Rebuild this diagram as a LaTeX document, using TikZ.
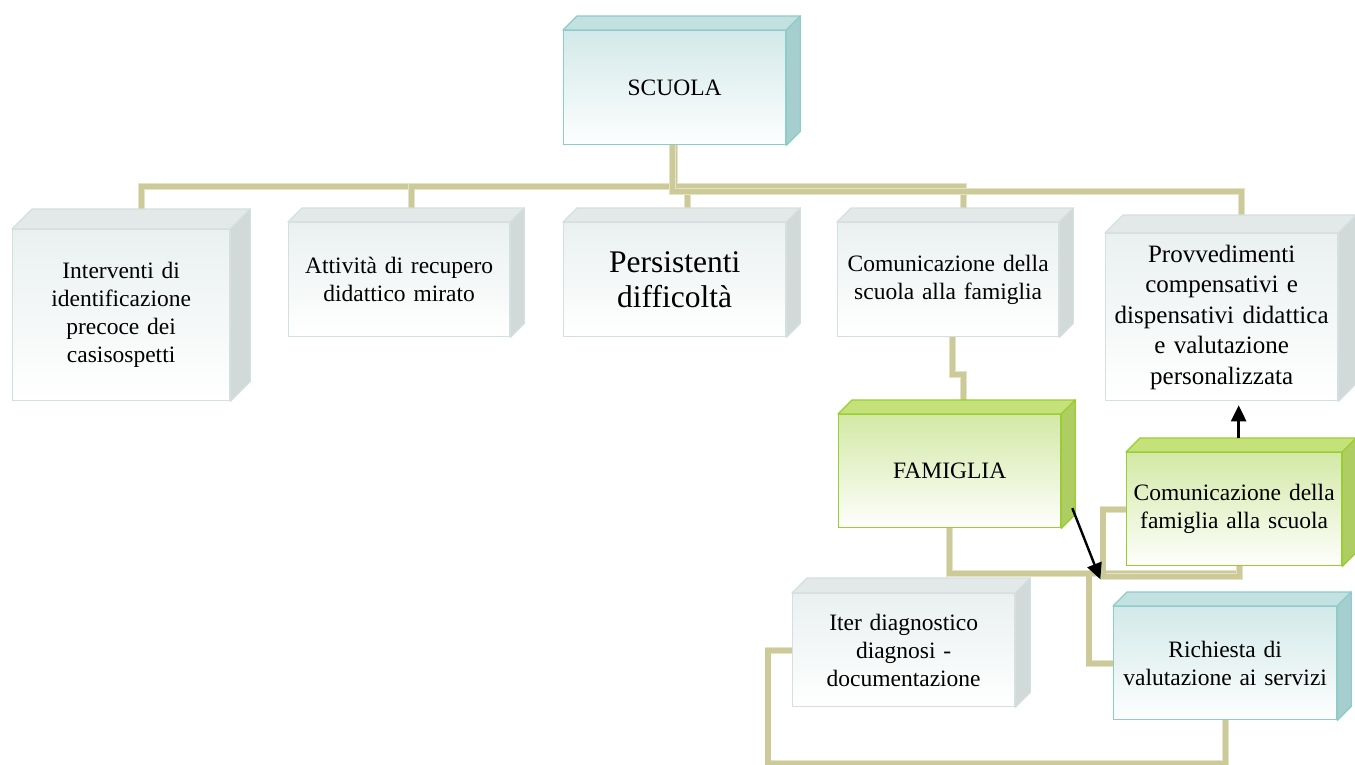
\documentclass[tikz,border=0pt]{standalone}
\usepackage{fontspec}
\setmainfont{Liberation Serif}
\usetikzlibrary{calc,arrows.meta}
\pgfdeclarelayer{background}
\pgfsetlayers{background,main}
\definecolor{connc}{RGB}{204,202,152}
\definecolor{conne}{RGB}{228,227,200}
% grey family
\definecolor{gbord}{RGB}{212,223,223}
\definecolor{gtopf}{RGB}{227,233,233}
\definecolor{gside}{RGB}{209,217,217}
\definecolor{gfront}{RGB}{234,240,240}
% teal family
\definecolor{tbord}{RGB}{140,205,201}
\definecolor{ttopf}{RGB}{195,225,225}
\definecolor{tside}{RGB}{167,206,206}
\definecolor{tfront}{RGB}{211,233,233}
% green family
\definecolor{vbord}{RGB}{154,205,50}
\definecolor{vtopf}{RGB}{197,225,122}
\definecolor{vside}{RGB}{174,205,98}
\definecolor{vfront}{RGB}{211,233,166}
\newcommand\cubefaces[5]{%
  \draw[#5, fill=#3, line join=round] (#1.north west) -- ++(#2,-#2) -- ($(#1.north east)+(#2,-#2)$) -- (#1.north east) -- cycle;
  \draw[#5, fill=#4, line join=round] (#1.north east) -- ++(#2,-#2) -- ($(#1.south east)+(#2,-#2)$) -- (#1.south east) -- cycle;}
\tikzset{
  boxbase/.style={anchor=north west, inner sep=0pt, align=center, line width=1.3pt,
    font=\fontsize{23.5}{28}\selectfont},
  greybox/.style={boxbase, draw=gbord, top color=gfront, bottom color=white},
  tealbox/.style={boxbase, draw=tbord, top color=tfront, bottom color=white!96!tfront},
  greenbox/.style={boxbase, draw=vbord, top color=vfront, bottom color=white!97!vfront},
  conn/.style={line width=5.2pt, draw=connc, preaction={draw=conne, line width=6.8pt}},
  arr/.style={line width=2.4pt, black, -{Triangle[length=16pt,width=15pt]}}
}
\begin{document}
\begin{tikzpicture}[x=1pt,y=-1pt]
\useasboundingbox (0,0) rectangle (1355,765);
\begin{pgfonlayer}{background}
\fill[white] (0,0) rectangle (1355,765);
\end{pgfonlayer}

% nodes
\node[tealbox, minimum width=222pt, minimum height=114pt, text width=216pt] (scuola) at (563,30) {SCUOLA};
\cubefaces{scuola}{14}{ttopf}{tside}{draw=tbord, line width=1.3pt}

\node[greybox, minimum width=217pt, minimum height=171pt, text width=211pt] (interv) at (12,229) {Interventi di\\identificazione\\precoce dei\\casisospetti};
\cubefaces{interv}{20}{gtopf}{gside}{draw=gbord, line width=1.3pt}

\node[greybox, minimum width=221pt, minimum height=114pt, text width=215pt] (attiv) at (288,222) {Attività di recupero\\didattico mirato};
\cubefaces{attiv}{14}{gtopf}{gside}{draw=gbord, line width=1.3pt}

\node[greybox, minimum width=222pt, minimum height=114pt, text width=216pt, font=\fontsize{31.5}{35}\selectfont] (pers) at (563,222) {Persistenti\\difficoltà};
\cubefaces{pers}{14}{gtopf}{gside}{draw=gbord, line width=1.3pt}

\node[greybox, minimum width=221pt, minimum height=114pt, text width=215pt] (comsc) at (837,222) {Comunicazione della\\scuola alla famiglia};
\cubefaces{comsc}{14}{gtopf}{gside}{draw=gbord, line width=1.3pt}

\node[greybox, minimum width=232pt, minimum height=167pt, text width=228pt, font=\fontsize{25}{30.5}\selectfont] (prov) at (1105,233) {Provvedimenti\\compensativi e\\dispensativi didattica\\e valutazione\\personalizzata};
\cubefaces{prov}{18}{gtopf}{gside}{draw=gbord, line width=1.3pt}

\node[greenbox, minimum width=222pt, minimum height=113pt, text width=216pt] (famiglia) at (838,414) {FAMIGLIA};
\cubefaces{famiglia}{14}{vtopf}{vside}{draw=vbord, line width=1.3pt}

\node[greenbox, minimum width=215pt, minimum height=113pt, text width=211pt] (comfam) at (1126,452) {Comunicazione della\\famiglia alla scuola};
\cubefaces{comfam}{14}{vtopf}{vside}{draw=vbord, line width=1.3pt}

\node[greybox, minimum width=222pt, minimum height=113pt, text width=216pt] (iter) at (792,593) {Iter diagnostico\\diagnosi -\\documentazione};
\cubefaces{iter}{15}{gtopf}{gside}{draw=gbord, line width=1.3pt}

\node[tealbox, minimum width=223pt, minimum height=113pt, text width=219pt] (richiesta) at (1113,606) {Richiesta di\\valutazione ai servizi};
\cubefaces{richiesta}{14}{ttopf}{tside}{draw=tbord, line width=1.3pt}

% connectors
\begin{pgfonlayer}{background}
\draw[conn] (scuola.south) -- ++(0,41) -| ($(interv.north)+(20,0)$);
\draw[conn] (scuola.south) -- ++(0,41) -| ($(attiv.north)+(12,0)$);
\draw[conn] (scuola.south) -- ++(0,41) -| ($(comsc.north)+(15.5,0)$);
\draw[conn] ($(scuola.south)+(-2,0)$) -- ++(0,46) -| ($(pers.north)+(13,0)$);
\draw[conn] ($(scuola.south)+(-2,0)$) -- ++(0,46) -| ($(prov.north)+(20,0)$);
\draw[conn] ($(comsc.south)+(4,0)$) -- ++(0,37) -| ($(famiglia.north)+(14,0)$);
\draw[conn] (famiglia.south) -- ++(0,45) -| ($(comfam.south)+(5,0)$);
\draw[conn] (famiglia.south) -- ++(0,45) -| ($(richiesta.west)+(-24,0)$) -- (richiesta.west);
\draw[conn] (comfam.west) -- ++(-23,0) -- ++(0,67) -| ($(comfam.south)+(5,0)$);
\draw[conn] (iter.west) -- ++(-24,0) -- ++(0,113) -| (richiesta.south);
\end{pgfonlayer}

% arrows
\coordinate (a1s) at ($(comfam.north)+(4.5,-14)$);
\coordinate (a1e) at ($(prov.south)+(17,4)$);
\draw[arr] (a1s) -- (a1e);
\coordinate (a2s) at ($(famiglia.east)+(11,37)$);
\coordinate (a2e) at ($(famiglia.south east)+(39,51)$);
\draw[arr] (a2s) -- (a2e);
\end{tikzpicture}
\end{document}
